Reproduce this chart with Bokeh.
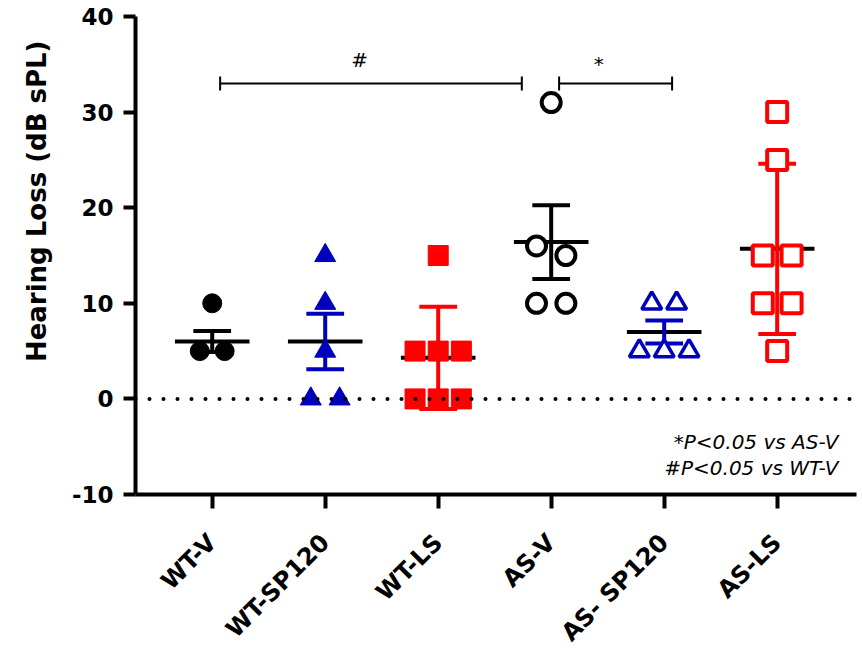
import math
from bokeh.plotting import figure
from bokeh.models import Range1d, FixedTicker, Span, Title, ColumnDataSource
from bokeh.embed import file_html
from bokeh.resources import INLINE
from bokeh.core.properties import value

# ---------------- data ----------------
groups = ["WT-V", "WT-SP120", "WT-LS", "AS-V", "AS- SP120", "AS-LS"]
wt_v = [10, 5, 5]
wt_sp120 = [15, 10, 5, 0, 0]
wt_ls = [15, 5, 5, 5, 0, 0, 0]
as_v = [31, 16, 15, 10, 10]
as_sp120 = [10, 10, 5, 5, 5]
as_ls = [30, 25, 15, 15, 10, 10, 5]
group_values = [wt_v, wt_sp120, wt_ls, as_v, as_sp120, as_ls]
means = [6.0, 6.0, 4.3, 16.4, 7.0, 15.7]
errors = [1.1, 2.9, 5.35, 3.85, 1.2, 8.9]
y_ticks = [-10, 0, 10, 20, 30, 40]
y_tick_labels = ["-10", "0", "10", "20", "30", "40"]
comparisons = [("WT-V", "AS-V", "#"), ("AS-V", "AS- SP120", "*")]
footnotes = ["*P<0.05 vs AS-V", "#P<0.05 vs WT-V"]
y_label = "Hearing Loss (dB sPL)"

# ---------------- style ----------------
BLUE = "#0000BF"
RED = "#FF0000"
colors = ["black", BLUE, RED, "black", BLUE, RED]
markers = ["circle", "triangle", "square", "circle", "triangle", "square"]
filled = [True, True, True, False, False, False]
msizes = [19, 21, 20, 19, 20, 20]
mlw = [1, 1, 1, 4, 3.5, 4]
steps = [0.22, 0.255, 0.205, 0.26, 0.22, 0.255]
FONT = "DejaVu Sans"


def swarm(vals, step, tol=1.5):
    order = sorted(range(len(vals)), key=lambda i: -vals[i])
    clusters = []
    for i in order:
        if clusters and abs(vals[i] - vals[clusters[-1][-1]]) <= tol:
            clusters[-1].append(i)
        else:
            clusters.append([i])
    offs = [0.0] * len(vals)
    for c in clusters:
        n = len(c)
        for k, i in enumerate(c):
            offs[i] = (k - (n - 1) / 2) * step
    return offs


pos = [i + 1 for i in range(len(groups))]

p = figure(width=862, height=664, output_backend="svg", toolbar_location=None,
           x_range=Range1d(0.321, 6.702), y_range=Range1d(-10, 40),
           min_border_left=135, min_border_right=6, min_border_top=16,
           min_border_bottom=170, background_fill_color="white",
           border_fill_color="white")
p.outline_line_color = None
p.grid.visible = False

# axes
for ax in (p.xaxis[0], p.yaxis[0]):
    ax.axis_line_width = 4
    ax.major_tick_line_width = 4
    ax.major_tick_in = 0
    ax.minor_tick_line_color = None
    ax.major_label_text_font = FONT
    ax.major_label_text_font_style = "bold"
    ax.major_label_text_color = "black"
p.yaxis.ticker = FixedTicker(ticks=y_ticks)
p.yaxis.major_label_overrides = {t: s for t, s in zip(y_ticks, y_tick_labels)}
p.yaxis.major_tick_out = 12
p.yaxis.major_label_standoff = 10
p.yaxis.major_label_text_font_size = "23px"
p.xaxis.ticker = FixedTicker(ticks=pos)
p.xaxis.major_label_overrides = {pp: g for pp, g in zip(pos, groups)}
p.xaxis.major_tick_out = 14
p.xaxis.major_label_standoff = 30
p.xaxis.major_label_orientation = math.pi / 4
p.xaxis.major_label_text_font_size = "24px"

# y-axis title (left panel, placed high like the reference)
p.add_layout(Title(text=y_label, align="right", offset=24, standoff=33,
                   text_font=FONT, text_font_size="26px", text_font_style="bold",
                   text_color="black"), "left")

# zero reference line
p.add_layout(Span(location=0, dimension="width", line_color="black",
                  line_width=4, line_dash="0 14", line_cap="round"))

# mean lines
mean_src = ColumnDataSource(dict(x0=[x - 0.33 for x in pos], x1=[x + 0.33 for x in pos], y=means))
p.segment(x0="x0", x1="x1", y0="y", y1="y", source=mean_src, line_color="black", line_width=4)

# error bars
lo = [m - e for m, e in zip(means, errors)]
hi = [m + e for m, e in zip(means, errors)]
err_src = ColumnDataSource(dict(x=pos, lo=lo, hi=hi, c=colors,
                                cx0=[x - 0.167 for x in pos], cx1=[x + 0.167 for x in pos]))
p.segment(x0="x", x1="x", y0="lo", y1="hi", source=err_src, line_color="c", line_width=4)
p.segment(x0="cx0", x1="cx1", y0="lo", y1="lo", source=err_src, line_color="c", line_width=4)
p.segment(x0="cx0", x1="cx1", y0="hi", y1="hi", source=err_src, line_color="c", line_width=4)

# points
for i, vals in enumerate(group_values):
    offs = swarm(vals, steps[i])
    src = ColumnDataSource(dict(x=[pos[i] + o for o in offs], y=vals))
    p.scatter(x="x", y="y", source=src, marker=markers[i], size=msizes[i],
              line_color=colors[i], line_width=mlw[i],
              fill_color=colors[i] if filled[i] else "white")

# significance brackets
bracket_y = 33
start_inset = [0.07, 0.07]
end_inset = [-0.26, 0.07]
sym_dx = [-0.1, -0.15]
sym_lift = [2.5, 2.05]
tick_h = 0.73
bx0, bx1, tx, ty, tt = [], [], [], [], []
for k, (a, b, sym) in enumerate(comparisons):
    x0 = pos[groups.index(a)] + start_inset[k]
    x1 = pos[groups.index(b)] + end_inset[k]
    bx0.append(x0)
    bx1.append(x1)
    tx.append((x0 + x1) / 2 + sym_dx[k])
    ty.append(bracket_y + sym_lift[k])
    tt.append(sym)
br = ColumnDataSource(dict(x0=bx0, x1=bx1, y=[bracket_y] * len(bx0),
                           ylo=[bracket_y - tick_h] * len(bx0), yhi=[bracket_y + tick_h] * len(bx0)))
p.segment(x0="x0", x1="x1", y0="y", y1="y", source=br, line_color="black", line_width=2)
p.segment(x0="x0", x1="x0", y0="ylo", y1="yhi", source=br, line_color="black", line_width=2)
p.segment(x0="x1", x1="x1", y0="ylo", y1="yhi", source=br, line_color="black", line_width=2)
p.text(x=tx, y=ty, text=tt, text_font=value(FONT), text_font_size="20px",
       text_align="center", text_baseline="alphabetic", text_color="black")

# footnotes
p.text(x=[6.543, 6.543], y=[-4.55, -7.25], text=footnotes, text_font=value(FONT),
       text_font_size="20px", text_font_style="italic", text_align="right",
       text_baseline="alphabetic", text_color="black")

open("out.html", "w").write(file_html(p, INLINE))
